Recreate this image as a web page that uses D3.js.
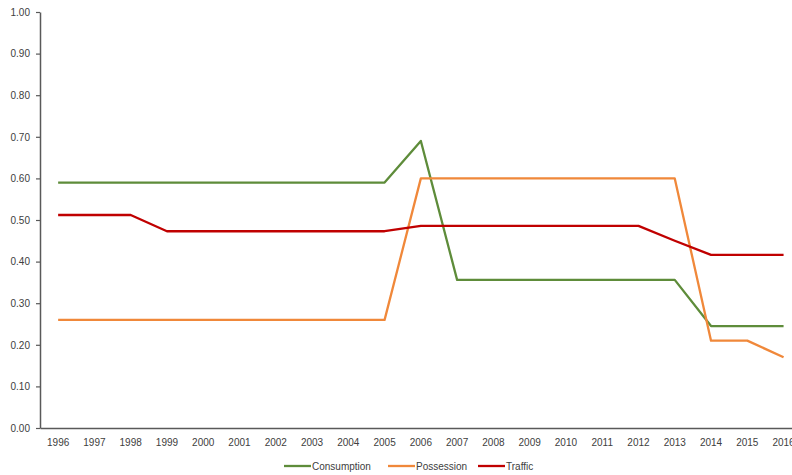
<!DOCTYPE html>
<html>
<head>
<meta charset="utf-8">
<script src="https://cdn.jsdelivr.net/npm/d3@7"></script>
<style>
  html, body { margin: 0; padding: 0; background: #fff; }
  svg { display: block; font-family: "Liberation Sans", Arial, sans-serif; }
</style>
</head>
<body>
<svg id="chart" width="792" height="475"></svg>
<script>
// Years along the category axis
const years = ["1996","1997","1998","1999","2000","2001","2002","2003","2004","2005",
               "2006","2007","2008","2009","2010","2011","2012","2013","2014","2015","2016"];

// Series values per year
const consumption = [0.59,0.59,0.59,0.59,0.59,0.59,0.59,0.59,0.59,0.59,
                     0.69,0.356,0.356,0.356,0.356,0.356,0.356,0.356,0.245,0.245,0.245];
const possession  = [0.26,0.26,0.26,0.26,0.26,0.26,0.26,0.26,0.26,0.26,
                     0.60,0.60,0.60,0.60,0.60,0.60,0.60,0.60,0.21,0.21,0.17];
const traffic     = [0.512,0.512,0.512,0.473,0.473,0.473,0.473,0.473,0.473,0.473,
                     0.486,0.486,0.486,0.486,0.486,0.486,0.486,0.45,0.416,0.416,0.416];

// Value axis ticks
const yTicks = [0,0.1,0.2,0.3,0.4,0.5,0.6,0.7,0.8,0.9,1.0];

const seriesNames = ["Consumption","Possession","Traffic"];
const seriesColors = ["#5E8C3A","#F0883A","#C00000"];
const seriesValues = [consumption, possession, traffic];

const svg = d3.select("#chart");
const axisColor = "#595959";
const textColor = "#404040";

const x = d3.scaleBand().domain(years).range([40, 801.7]);
const y = d3.scaleLinear().domain([0, 1]).range([428, 12]);
const cx = d => x(d) + x.bandwidth() / 2;

// Y axis
const yAxis = d3.axisLeft(y).tickValues(yTicks).tickFormat(d3.format(".2f")).tickSizeOuter(0).tickSizeInner(4).tickPadding(6);
const gy = svg.append("g").attr("transform", "translate(40,0)").call(yAxis);
gy.select(".domain").attr("stroke", axisColor).attr("stroke-width", 1.5);
gy.selectAll(".tick line").attr("stroke", axisColor).attr("stroke-width", 1.2);
gy.selectAll(".tick text").attr("fill", textColor).style("font-size", "10px")
  .style("font-family", '"Liberation Sans", Arial, sans-serif');

// X axis (labels centred on each category, no tick marks)
const xAxis = d3.axisBottom(x).tickSize(0).tickPadding(11);
const gx = svg.append("g").attr("transform", "translate(0,428)").call(xAxis);
gx.select(".domain").attr("stroke", axisColor).attr("stroke-width", 1.5);
gx.selectAll(".tick text").attr("fill", textColor).style("font-size", "10px")
  .style("font-family", '"Liberation Sans", Arial, sans-serif');

// Series lines
const line = d3.line().x((d, i) => cx(years[i])).y(d => y(d));
seriesValues.forEach((vals, k) => {
  svg.append("path")
    .datum(vals)
    .attr("d", line)
    .attr("fill", "none")
    .attr("stroke", seriesColors[k])
    .attr("stroke-width", 2.3)
    .attr("stroke-linejoin", "round");
});

// Legend
const legendX = [284, 388, 478];
const legend = svg.append("g").attr("transform", "translate(0,466)");
seriesNames.forEach((name, k) => {
  const g = legend.append("g").attr("transform", `translate(${legendX[k]},0)`);
  g.append("line").attr("x1", 0).attr("x2", 27).attr("y1", 0).attr("y2", 0)
    .attr("stroke", seriesColors[k]).attr("stroke-width", 2.3);
  g.append("text").attr("x", 28).attr("y", 3.5).attr("fill", textColor)
    .style("font-size", "10px").text(name);
});
</script>
</body>
</html>
